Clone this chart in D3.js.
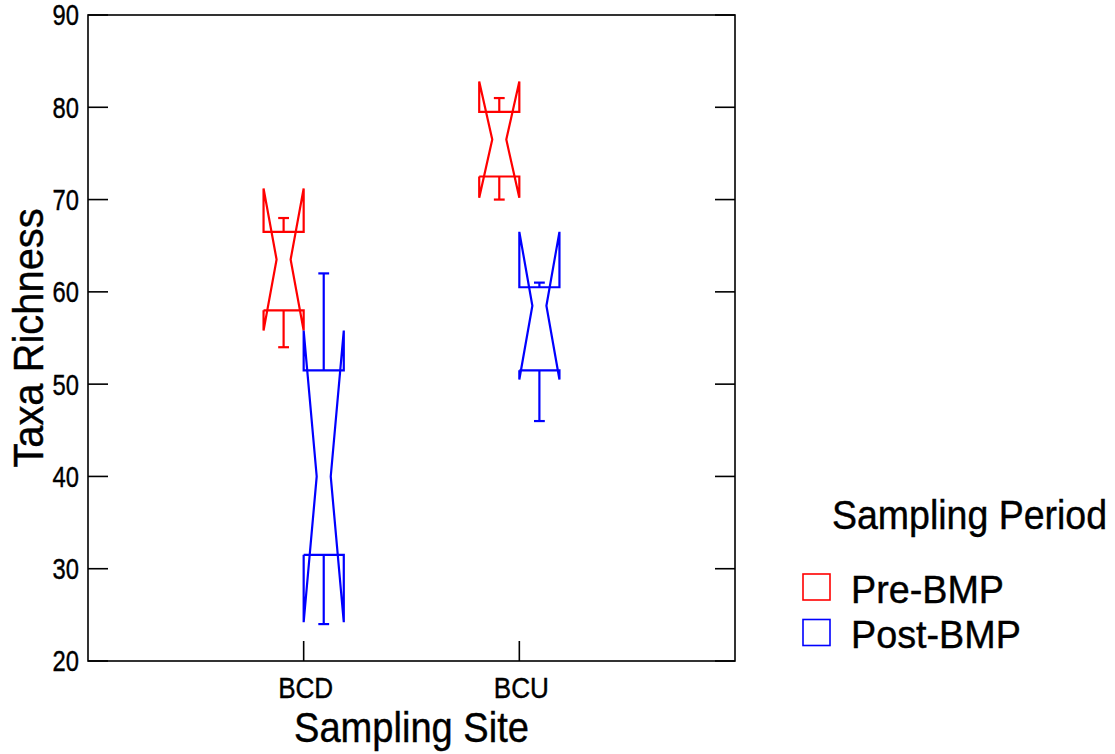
<!DOCTYPE html>
<html lang="en">
<head>
<meta charset="UTF-8">
<title>Taxa Richness by Sampling Site</title>
<script src="https://cdnjs.cloudflare.com/ajax/libs/d3/7.8.5/d3.min.js"></script>
<style>
body { margin: 0; background: #fff; }
text { font-family: "Liberation Sans", Arial, Helvetica, sans-serif; fill: #000; stroke: #000; stroke-width: 0.4px; }
.frame, .tick { fill: none; stroke: #000; stroke-width: 1.6px; }
</style>
</head>
<body>
<script>
// categories
var sites = ["BCD", "BCU"];
var periods = ["Pre-BMP", "Post-BMP"];
var colors = ["#ff0000", "#0000ff"];
var yTicks = [20, 30, 40, 50, 60, 70, 80, 90];

// box statistics (one value per site)
var preMin     = [54.0, 70.0];
var preQ1      = [58.0, 72.5];
var preMedian  = [63.5, 76.5];
var preQ3      = [66.5, 79.5];
var preMax     = [68.0, 81.0];
var preNotchLo = [55.8, 70.2];
var preNotchHi = [71.2, 82.8];

var postMin     = [24.0, 46.0];
var postQ1      = [31.5, 51.5];
var postMedian  = [40.0, 58.5];
var postQ3      = [51.5, 60.5];
var postMax     = [62.0, 61.0];
var postNotchLo = [24.2, 50.5];
var postNotchHi = [55.8, 66.5];

var W = 1115, H = 754;
var plot = {left: 88, right: 735, top: 15, bottom: 661};

var svg = d3.select("body").append("svg")
    .attr("width", W)
    .attr("height", H);

// sites sit at 1 and 2 on a 0..3 axis
var x = d3.scaleLinear().domain([0, 3]).range([plot.left, plot.right]);
var y = d3.scaleLinear().domain([20, 90]).range([plot.bottom, plot.top]);
var unit = x(1) - x(0);
var dodge = d3.scaleBand().domain(periods).range([-0.186 * unit, 0.186 * unit]);
var boxHalf = dodge.bandwidth() / 2;
var waistHalf = boxHalf * 0.35;
var capHalf = boxHalf * 0.27;

// helper for squeezed text
function label(parent, px, py, txt, size, sx, anchor, rot) {
    var g = parent.append("g")
        .attr("transform", "translate(" + px + "," + py + ")" + (rot ? " rotate(" + rot + ")" : ""));
    return g.append("text")
        .attr("transform", "scale(" + sx + ",1)")
        .attr("text-anchor", anchor)
        .style("font-size", size + "px")
        .text(txt);
}

// frame
svg.append("rect").attr("class", "frame")
    .attr("x", plot.left).attr("y", plot.top)
    .attr("width", plot.right - plot.left)
    .attr("height", plot.bottom - plot.top);

// inward ticks, left and right
yTicks.forEach(function(v) {
    svg.append("line").attr("class", "tick")
        .attr("x1", plot.left).attr("x2", plot.left + 20)
        .attr("y1", y(v)).attr("y2", y(v));
    svg.append("line").attr("class", "tick")
        .attr("x1", plot.right - 20).attr("x2", plot.right)
        .attr("y1", y(v)).attr("y2", y(v));
    label(svg, plot.left - 9, y(v), String(v), 29, 0.82, "end").attr("dy", "0.36em");
});

sites.forEach(function(s, i) {
    svg.append("line").attr("class", "tick")
        .attr("x1", x(i + 1)).attr("x2", x(i + 1))
        .attr("y1", plot.bottom).attr("y2", plot.bottom - 20);
    label(svg, x(i + 1) + 2, 698, s, 29, 0.9, "middle");
});

// axis titles
label(svg, (plot.left + plot.right) / 2, 742, "Sampling Site", 43, 0.886, "middle");
label(svg, 43, (plot.top + plot.bottom) / 2, "Taxa Richness", 42, 0.95, "middle", -90);

// notched boxes
var series = [
    {period: periods[0], color: colors[0], lo: preMin, q1: preQ1, med: preMedian, q3: preQ3, hi: preMax, nlo: preNotchLo, nhi: preNotchHi},
    {period: periods[1], color: colors[1], lo: postMin, q1: postQ1, med: postMedian, q3: postQ3, hi: postMax, nlo: postNotchLo, nhi: postNotchHi}
];

var outline = d3.line();

series.forEach(function(d) {
    var g = svg.append("g")
        .attr("fill", "none")
        .attr("stroke", d.color)
        .attr("stroke-width", 2.2)
        .attr("stroke-linejoin", "miter");
    sites.forEach(function(s, i) {
        var cx = x(i + 1) + dodge(d.period) + boxHalf;
        var L = cx - boxHalf, R = cx + boxHalf;
        var pts = [
            [L, y(d.q1[i])], [L, y(d.nlo[i])], [cx - waistHalf, y(d.med[i])],
            [L, y(d.nhi[i])], [L, y(d.q3[i])], [R, y(d.q3[i])],
            [R, y(d.nhi[i])], [cx + waistHalf, y(d.med[i])], [R, y(d.nlo[i])],
            [R, y(d.q1[i])], [L, y(d.q1[i])]
        ];
        g.append("path").attr("d", outline(pts));
        // whiskers
        g.append("line").attr("x1", cx).attr("x2", cx).attr("y1", y(d.q3[i])).attr("y2", y(d.hi[i]));
        g.append("line").attr("x1", cx - capHalf).attr("x2", cx + capHalf).attr("y1", y(d.hi[i])).attr("y2", y(d.hi[i]));
        g.append("line").attr("x1", cx).attr("x2", cx).attr("y1", y(d.q1[i])).attr("y2", y(d.lo[i]));
        g.append("line").attr("x1", cx - capHalf).attr("x2", cx + capHalf).attr("y1", y(d.lo[i])).attr("y2", y(d.lo[i]));
    });
});

// legend
label(svg, 832, 529, "Sampling Period", 40.5, 0.926, "start");
periods.forEach(function(p, i) {
    svg.append("rect")
        .attr("x", 803).attr("y", 574 + i * 45.5)
        .attr("width", 27).attr("height", 26)
        .attr("fill", "none")
        .attr("stroke", colors[i])
        .attr("stroke-width", 1.6);
    label(svg, 851, 603 + i * 44.5, p, 38.5, 0.98, "start");
});
</script>
</body>
</html>
